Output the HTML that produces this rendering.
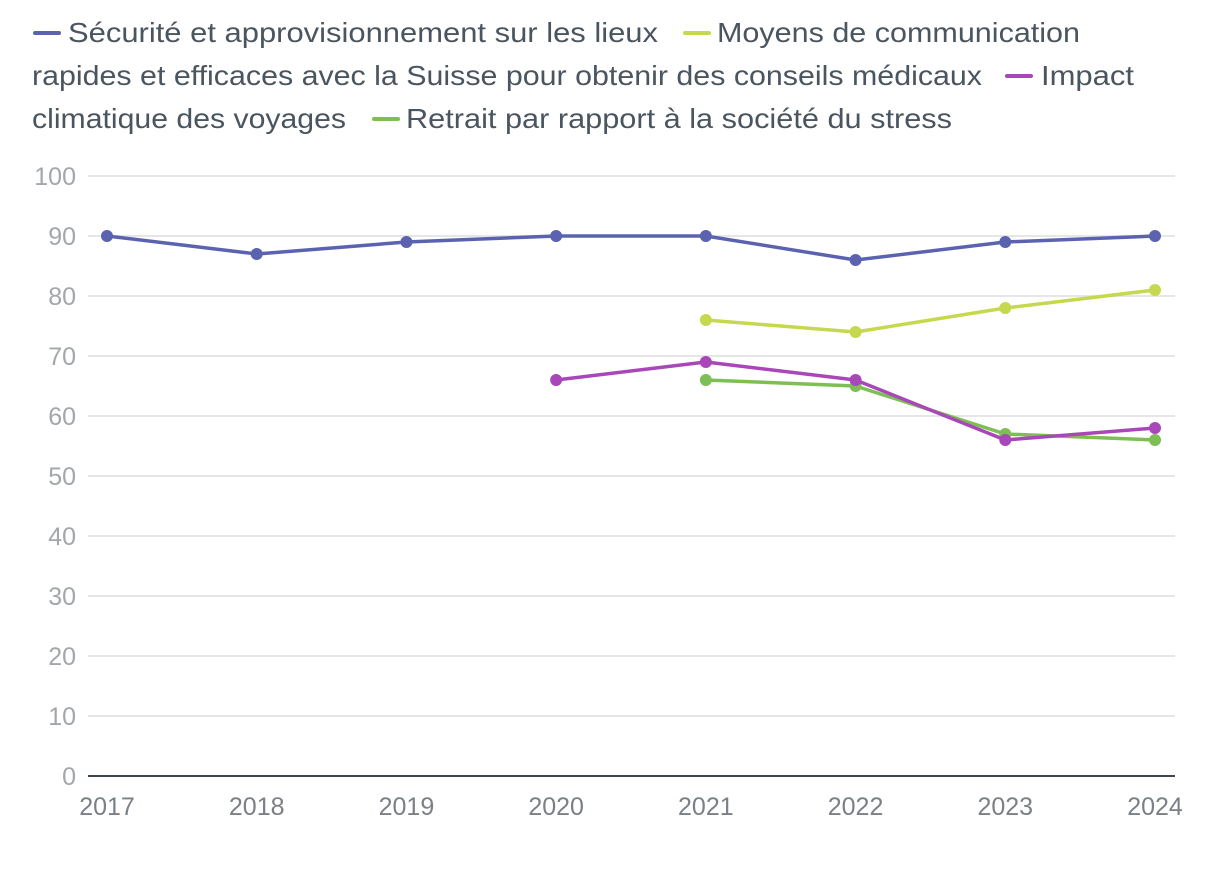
<!DOCTYPE html>
<html><head><meta charset="utf-8"><style>
body{margin:0;background:#fff;width:1220px;height:874px;overflow:hidden;font-family:"Liberation Sans",sans-serif}
</style></head><body>
<svg id="c" width="1220" height="874" style="position:absolute;left:0;top:0">
<g font-family="Liberation Sans, sans-serif" font-size="28" fill="#4a5560">
<rect x="33" y="31" width="28" height="4" rx="2" fill="#5b63b0"/>
<text x="68" y="42" textLength="590" lengthAdjust="spacingAndGlyphs">Sécurité et approvisionnement sur les lieux</text>
<rect x="683" y="31" width="28" height="4" rx="2" fill="#c6d84e"/>
<text x="717" y="42" textLength="363" lengthAdjust="spacingAndGlyphs">Moyens de communication</text>
<text x="32" y="85" textLength="950" lengthAdjust="spacingAndGlyphs">rapides et efficaces avec la Suisse pour obtenir des conseils médicaux</text>
<rect x="1005" y="74" width="28" height="4" rx="2" fill="#a847b8"/>
<text x="1041" y="85" textLength="93" lengthAdjust="spacingAndGlyphs">Impact</text>
<text x="32" y="128" textLength="314" lengthAdjust="spacingAndGlyphs">climatique des voyages</text>
<rect x="372" y="117" width="28" height="4" rx="2" fill="#7dbf55"/>
<text x="406" y="128" textLength="546" lengthAdjust="spacingAndGlyphs">Retrait par rapport à la société du stress</text>
</g>
</svg>
<script>
const years=["2017","2018","2019","2020","2021","2022","2023","2024"];
const yTicks=[0,10,20,30,40,50,60,70,80,90,100];
const securite=[90,87,89,90,90,86,89,90];
const moyens=[null,null,null,null,76,74,78,81];
const impact=[null,null,null,66,69,66,56,58];
const retrait=[null,null,null,null,66,65,57,56];
const NS="http://www.w3.org/2000/svg",svg=document.getElementById('c');
const x=i=>107+i*(1155-107)/(years.length-1);
const y=v=>776-v*6;
function el(t,a,p){const e=document.createElementNS(NS,t);for(const k in a)e.setAttribute(k,a[k]);(p||svg).appendChild(e);return e;}
yTicks.forEach(v=>{
 const g=el('line',{x1:88,x2:1175,y1:y(v),y2:y(v),stroke:'#e6e6e6','stroke-width':2});
 
 
 const t=el('text',{x:76,y:y(v)+9,'text-anchor':'end','font-size':25,fill:'#a3a7ab','font-family':'Liberation Sans,sans-serif'});
 t.textContent=v;
 
 
});
const ax=el('line',{x1:88,x2:1175,y1:776,y2:776,stroke:'#3c4650','stroke-width':2});


years.forEach((yr,i)=>{
 const t=el('text',{x:x(i),y:815,'text-anchor':'middle','font-size':25,fill:'#7a8086','font-family':'Liberation Sans,sans-serif'});
 t.textContent=yr;
 
 
});
function series(name,data,color){
 let d='';data.forEach((v,i)=>{if(v==null)return;d+=(d?'L':'M')+x(i)+' '+y(v);});
 const p=el('path',{d:d,fill:'none',stroke:color,'stroke-width':3.5,'stroke-linejoin':'round'});
 
 
 data.forEach((v,i)=>{if(v==null)return;
  const c=el('circle',{cx:x(i),cy:y(v),r:6,fill:color});
  
  
 });
}
series('securite',securite,'#5b63b0');
series('moyens',moyens,'#c6d84e');
series('retrait',retrait,'#7dbf55');
series('impact',impact,'#a847b8');
</script>
</body></html>
